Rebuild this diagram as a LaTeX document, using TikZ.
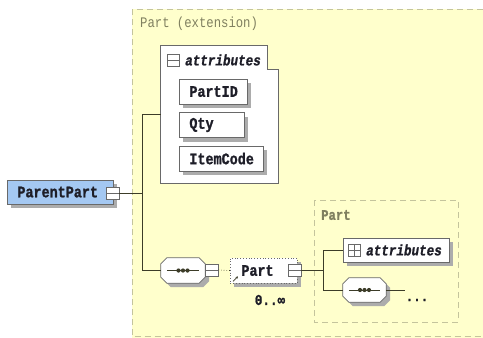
\documentclass[tikz,border=0pt]{standalone}
\usepackage{fontspec}
\setmonofont{Liberation Mono}[FakeStretch=0.84, BoldFeatures={FakeBold=1.2}, BoldItalicFeatures={FakeBold=1}]
\usetikzlibrary{shadows,calc,arrows.meta}
\definecolor{bgyellow}{RGB}{255,255,204}
\definecolor{dashcol}{RGB}{196,196,156}
\definecolor{lblcol}{RGB}{128,128,96}
\definecolor{boxborder}{RGB}{105,105,105}
\definecolor{ppblue}{RGB}{164,200,242}
\definecolor{shadowcol}{RGB}{172,172,172}
\definecolor{linecol}{RGB}{60,60,40}
\definecolor{txtcol}{RGB}{30,30,40}
\newcommand\seqoct[1]{%
  \foreach \sx/\sty in {4/shadowpath, 0/facepath}{%
    \path[\sty]
      ($(#1.north west)+(6+\sx,\sx)$) -- ($(#1.north east)+(-6+\sx,\sx)$) -- ($(#1.north east)+(\sx,6+\sx)$)
      -- ($(#1.south east)+(\sx,-6+\sx)$) -- ($(#1.south east)+(-6+\sx,\sx)$) -- ($(#1.south west)+(6+\sx,\sx)$)
      -- ($(#1.south west)+(\sx,-6+\sx)$) -- ($(#1.north west)+(\sx,6+\sx)$) -- cycle;}
  \draw[linecol, line width=0.8pt] ($(#1.west)+(6,0)$) -- ($(#1.east)+(-6,0)$);
  \foreach \dx in {-4.5,0,4.5} \fill[linecol] ($(#1.center)+(\dx,0)$) circle[radius=2.1pt];
}
\begin{document}
\begin{tikzpicture}[x=1pt,y=-1pt,
  shad/.style={general shadow={fill=shadowcol, shadow xshift=4pt, shadow yshift=-4pt}},
  shadowpath/.style={fill=shadowcol},
  facepath/.style={draw=boxborder, fill=white, line width=0.8pt},
  elem/.style={draw=boxborder, fill=white, line width=0.8pt, minimum height=25pt,
    inner xsep=10pt, inner ysep=0pt, align=left, anchor=west, text=txtcol,
    font=\ttfamily\bfseries\fontsize{16}{16}\selectfont, shad},
  iconbox/.style={draw=boxborder, fill=white, line width=0.7pt, minimum width=13pt,
    minimum height=12pt, inner sep=0pt,
    path picture={\draw[boxborder, line width=0.7pt] (path picture bounding box.west) -- (path picture bounding box.east);}},
  plusbox/.style={iconbox, path picture={\draw[boxborder, line width=0.7pt]
    (path picture bounding box.west) -- (path picture bounding box.east)
    (path picture bounding box.north) -- (path picture bounding box.south);}},
  seqnode/.style={minimum width=44pt, minimum height=25pt, inner sep=0pt},
  conn/.style={draw=linecol, line width=0.7pt},
  lbl/.style={text=lblcol, font=\ttfamily\fontsize{14.6}{15}\selectfont, anchor=west, inner sep=0pt},
  ital/.style={text=txtcol, font=\ttfamily\bfseries\itshape\fontsize{15}{15}\selectfont, anchor=west, inner sep=0pt},
  dashbox/.style={draw=dashcol, line width=1pt, dash pattern=on 6pt off 4pt}
]
\useasboundingbox (0,0) rectangle (483,338);
\clip (0,0) rectangle (483,338);
\fill[white] (0,0) rectangle (483,338);
% outer extension box
\fill[bgyellow] (132,9) rectangle (500,345);
\draw[dashbox] (132,9) rectangle (500,336.5);
\node[lbl] (extlbl) at (140,24) {Part (extension)};

% attributes group
\node[minimum width=117pt, minimum height=137pt, inner sep=0pt] (attrbox) at (219.5,114.5) {};
\draw[draw=boxborder, fill=white, line width=0.8pt]
  (attrbox.north west) -- ($(attrbox.north east)+(-11,0)$) -- ($(attrbox.north east)+(-11,24)$)
  -- ($(attrbox.north east)+(0,24)$) -- (attrbox.south east) -- (attrbox.south west) -- cycle;
\node[iconbox, minimum width=12pt] (attricon) at (173,60.5) {};
\node[ital] (attrtxt) at (185,60) {attributes};
\node[elem, text width=48pt] (partid) at (179,91.5) {PartID};
\node[elem, text width=45pt] (qty) at (179,125) {Qty};
\node[elem, text width=64pt] (itemcode) at (179,158.5) {ItemCode};

% ParentPart
\node[elem, fill=ppblue, text width=86pt, minimum height=24pt] (pp) at (7,192) {ParentPart};
\node[iconbox] (ppicon) at (112.5,193) {};

% sequence 1
\node[seqnode] (s1) at (183,270.5) {};
\seqoct{s1}
\node[iconbox] (s1icon) at (211.5,270) {};

% Part element
\node[elem, dotted, text width=45pt, inner xsep=11pt] (pn) at (230,270.5) {Part};
\node[iconbox] (pnicon) at (294.5,270) {};
\draw[-{Stealth[length=2.5pt,width=2.5pt]}, linecol, line width=0.6pt]
  ($(pn.south west)+(3,-2)$) -- ++(5,-5);
\node[text=txtcol, font=\ttfamily\bfseries\fontsize{15}{15}\selectfont, inner sep=0pt] (card) at (270,300) {0..∞};

% inner Part box
\draw[dashbox] (314,200) rectangle (458,322);
\node[lbl, font=\ttfamily\bfseries\fontsize{14.6}{15}\selectfont] (innerlbl) at (321,215) {Part};
\node[draw=boxborder, fill=white, line width=0.8pt, minimum width=106pt, minimum height=24pt, inner sep=0pt, shad] (attr2) at (396,250) {};
\node[plusbox, minimum width=12pt] (attr2icon) at (354,250) {};
\node[ital] (attr2txt) at (366,250) {attributes};

\node[seqnode, minimum width=43pt, minimum height=24pt] (s2) at (364.5,290) {};
\seqoct{s2}
\coordinate (e2) at (405,290);
\node[text=txtcol, font=\ttfamily\bfseries\fontsize{15}{15}\selectfont, inner sep=0pt] (dots) at (417,300) {...};

% connectors
\coordinate (j1) at (142,193);
\coordinate (j2) at (323,270);
\draw[conn] (ppicon.east) -- (j1);
\draw[conn] (j1) |- (attrbox.west);
\draw[conn] (j1) |- (s1.west);
\draw[conn, dotted] (s1icon.east) -- (pn.west);
\draw[conn] (pnicon.east) -- (j2);
\draw[conn] (j2) |- (attr2.west);
\draw[conn] (j2) |- (s2.west);
\draw[conn] (s2.east) -- (e2);
\end{tikzpicture}
\end{document}
